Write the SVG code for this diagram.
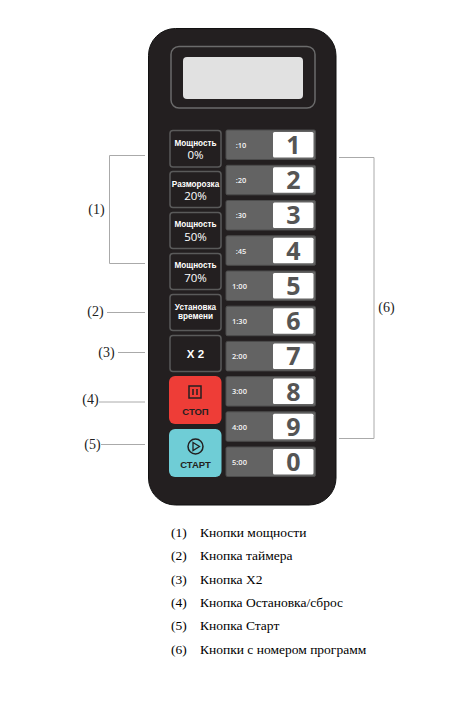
<svg xmlns="http://www.w3.org/2000/svg" width="452" height="720" viewBox="0 0 452 720">
<style>
.panel{fill:#231f20;stroke:#111;stroke-width:1}
.btn{fill:#231f20;stroke:#5a5a5a;stroke-width:1.5}
.row{fill:#636363;stroke:#4c4c4c;stroke-width:1}
.key{fill:#fff}
.t{font-family:"Liberation Sans",Arial,sans-serif;text-anchor:middle}
.b{font-size:8.2px;font-weight:700;fill:#fff}
.v{font-size:11.5px;fill:#fff;font-family:"Open Sans","Liberation Sans",sans-serif}
.time{font-family:"Open Sans","Liberation Sans",sans-serif;font-size:7.5px;font-weight:600;fill:#f4f4f4;text-anchor:middle}
.num{font-family:"Open Sans","Liberation Sans",sans-serif;font-size:25px;font-weight:700;fill:#555;text-anchor:middle}
.lead{fill:none;stroke:#aaa;stroke-width:1}
.s{font-family:"Liberation Serif","Times New Roman",serif;font-size:14px;fill:#222;text-anchor:middle}
.leg{font-family:"Liberation Serif","Times New Roman",serif;font-size:13.5px;fill:#000}
</style>
<rect width="452" height="720" fill="#fff"/>
<g id="panel">
<rect class="panel" x="148.500" y="28.500" width="187.500" height="476.500" rx="27"/>
<rect x="171" y="46.500" width="144" height="61.500" rx="8" fill="none" stroke="#6b6b6b" stroke-width="1.500"/>
<rect x="183" y="57" width="120" height="42" rx="4" fill="#e1e1e1"/>
</g>
<g id="btn-power-0"><rect class="btn" x="170" y="130.500" width="51" height="36.500" rx="3"/><text class="t b" x="195.500" y="145.500">Мощность</text><text class="t v" x="195.500" y="159">0%</text></g>
<g id="btn-defrost"><rect class="btn" x="170" y="171.500" width="51" height="36" rx="3"/><text class="t b" x="195.500" y="186.500">Разморозка</text><text class="t v" x="195.500" y="200">20%</text></g>
<g id="btn-power-50"><rect class="btn" x="170" y="212.500" width="51" height="36" rx="3"/><text class="t b" x="195.500" y="226.500">Мощность</text><text class="t v" x="195.500" y="240.500">50%</text></g>
<g id="btn-power-70"><rect class="btn" x="170" y="253.500" width="51" height="36" rx="3"/><text class="t b" x="195.500" y="268">Мощность</text><text class="t v" x="195.500" y="281.500">70%</text></g>
<g id="btn-timer"><rect class="btn" x="170" y="294.500" width="51" height="36" rx="3"/><text class="t b" x="195.500" y="310">Установка</text><text class="t b" x="195.500" y="319">времени</text></g>
<g id="btn-x2"><rect class="btn" x="170" y="335.500" width="51" height="36" rx="3"/><text class="t" x="195.500" y="357.500" font-size="11.500" font-weight="700" fill="#fff">X 2</text></g>
<g id="btn-stop"><rect x="169" y="376" width="52.500" height="48" rx="6" fill="#ee3d37"/><rect x="189" y="386" width="12" height="12" fill="none" stroke="#231f20" stroke-width="1.500"/><path d="M193 389v6M197 389v6" stroke="#231f20" stroke-width="1.500"/><text class="t" x="195.500" y="414.500" font-size="9.500" font-weight="700" fill="#231f20">СТОП</text></g>
<g id="btn-start"><rect x="169" y="429" width="52.500" height="48" rx="6" fill="#6fcdd6"/><circle cx="195.500" cy="446.500" r="7.500" fill="none" stroke="#231f20" stroke-width="1.500"/><path d="M193 442.500l6.500 4-6.500 4z" fill="none" stroke="#231f20" stroke-width="1.300"/><text class="t" x="195.500" y="468" font-size="9.500" font-weight="700" fill="#231f20">СТАРТ</text></g>
<g id="key-1"><rect class="row" x="226" y="130" width="89.500" height="29.500" rx="1.500"/><rect class="key" x="273" y="132" width="40.500" height="25.500" rx="1.500"/><text class="time" x="241" y="148">:10</text><text class="num" x="293.500" y="154">1</text></g>
<g id="key-2"><rect class="row" x="226" y="165.300" width="89.500" height="29.500" rx="1.500"/><rect class="key" x="273" y="167.300" width="40.500" height="25.500" rx="1.500"/><text class="time" x="241" y="183">:20</text><text class="num" x="293.500" y="189">2</text></g>
<g id="key-3"><rect class="row" x="226" y="200.500" width="89.500" height="29.500" rx="1.500"/><rect class="key" x="273" y="202.500" width="40.500" height="25.500" rx="1.500"/><text class="time" x="241" y="218">:30</text><text class="num" x="293.500" y="224">3</text></g>
<g id="key-4"><rect class="row" x="226" y="235.800" width="89.500" height="29.500" rx="1.500"/><rect class="key" x="273" y="237.800" width="40.500" height="25.500" rx="1.500"/><text class="time" x="241" y="253.500">:45</text><text class="num" x="293.500" y="259.500">4</text></g>
<g id="key-5"><rect class="row" x="226" y="271" width="89.500" height="29.500" rx="1.500"/><rect class="key" x="273" y="273" width="40.500" height="25.500" rx="1.500"/><text class="time" x="239.500" y="288.500">1:00</text><text class="num" x="293.500" y="295">5</text></g>
<g id="key-6"><rect class="row" x="226" y="306.200" width="89.500" height="29.500" rx="1.500"/><rect class="key" x="273" y="308.200" width="40.500" height="25.500" rx="1.500"/><text class="time" x="239.500" y="324">1:30</text><text class="num" x="293.500" y="330">6</text></g>
<g id="key-7"><rect class="row" x="226" y="341.400" width="89.500" height="29.500" rx="1.500"/><rect class="key" x="273" y="343.400" width="40.500" height="25.500" rx="1.500"/><text class="time" x="239.500" y="359">2:00</text><text class="num" x="293.500" y="365">7</text></g>
<g id="key-8"><rect class="row" x="226" y="376.600" width="89.500" height="29.500" rx="1.500"/><rect class="key" x="273" y="378.600" width="40.500" height="25.500" rx="1.500"/><text class="time" x="239.500" y="394">3:00</text><text class="num" x="293.500" y="400.500">8</text></g>
<g id="key-9"><rect class="row" x="226" y="411.800" width="89.500" height="29.500" rx="1.500"/><rect class="key" x="273" y="413.800" width="40.500" height="25.500" rx="1.500"/><text class="time" x="239.500" y="429.500">4:00</text><text class="num" x="293.500" y="435.500">9</text></g>
<g id="key-0"><rect class="row" x="226" y="447" width="89.500" height="29.500" rx="1.500"/><rect class="key" x="273" y="449" width="40.500" height="25.500" rx="1.500"/><text class="time" x="239.500" y="464.500">5:00</text><text class="num" x="293.500" y="471">0</text></g>
<g id="connectors">
<path class="lead" d="M145 155.500H109.500V263.500H145"/>
<path class="lead" d="M107 312.500H145"/>
<path class="lead" d="M118 352.500H145"/>
<path class="lead" d="M99 402H145"/>
<path class="lead" d="M101 444.500H145"/>
<path class="lead" d="M339 157.500H374V438.500H339"/>
</g>
<g id="callouts">
<text class="s" x="96.500" y="214">(1)</text>
<text class="s" x="95.500" y="316">(2)</text>
<text class="s" x="106.500" y="357">(3)</text>
<text class="s" x="90.500" y="403.500">(4)</text>
<text class="s" x="92.500" y="449">(5)</text>
<text class="s" x="386.500" y="312">(6)</text>
</g>
<g id="legend">
<text class="leg" x="171" y="537">(1)</text><text class="leg" x="200" y="537">Кнопки мощности</text>
<text class="leg" x="171" y="560">(2)</text><text class="leg" x="200" y="560">Кнопка таймера</text>
<text class="leg" x="171" y="584">(3)</text><text class="leg" x="200" y="584">Кнопка X2</text>
<text class="leg" x="171" y="607">(4)</text><text class="leg" x="200" y="607">Кнопка Остановка/сброс</text>
<text class="leg" x="171" y="630">(5)</text><text class="leg" x="200" y="630">Кнопка Старт</text>
<text class="leg" x="171" y="654">(6)</text><text class="leg" x="200" y="654">Кнопки с номером программ</text>
</g>
</svg>
